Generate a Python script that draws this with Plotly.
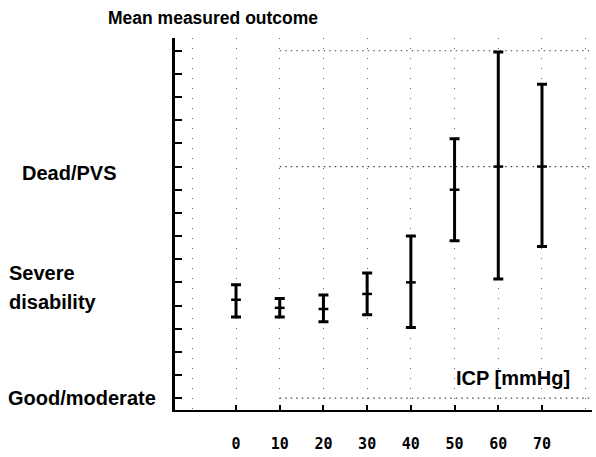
import plotly.graph_objects as go

# ---- data ----
icp = [0, 10, 20, 30, 40, 50, 60, 70]
mean_outcome = [1.85, 1.78, 1.77, 1.90, 2.00, 2.80, 3.00, 3.00]
upper = [1.98, 1.86, 1.89, 2.08, 2.40, 3.24, 3.99, 3.71]
lower = [1.70, 1.70, 1.66, 1.72, 1.61, 2.36, 2.03, 2.31]

x_ticks = [0, 10, 20, 30, 40, 50, 60, 70]
x_grid_extra = [-10, 80]
outcome_levels = [1, 2, 3]
outcome_labels = ["Good/moderate", "Severe\ndisability", "Dead/PVS"]
ref_levels = [1, 3, 4]

W, H = 596, 457
L, R, T, B = 175, 4, 38, 42
PW, PH = W - L - R, H - T - B
XR = [-13.96, 81.44]
YR = [0.898, 4.11]


def px_x(p):
    return (p - L) / PW


def px_y(p):
    return (H - B - p) / PH


def val_to_px_y(v):
    return H - B - (v - YR[0]) / (YR[1] - YR[0]) * PH


err_plus = [u - m for u, m in zip(upper, mean_outcome)]
err_minus = [m - lo for m, lo in zip(mean_outcome, lower)]

fig = go.Figure()
fig.add_trace(go.Scatter(
    x=icp, y=mean_outcome, mode="markers",
    marker=dict(symbol="line-ew", size=7, color="black",
                line=dict(color="black", width=2.5)),
    error_y=dict(type="data", symmetric=False, array=err_plus,
                 arrayminus=err_minus, color="black", thickness=3, width=5),
    showlegend=False, cliponaxis=False,
))

shapes = []
for lv in ref_levels:
    shapes.append(dict(type="line", xref="x", yref="y", x0=10, x1=XR[1],
                       y0=lv, y1=lv, layer="below",
                       line=dict(color="#444", width=1.2, dash="1.5px,4px")))

annotations = [
    dict(text="Mean measured outcome", xref="paper", yref="paper",
         x=px_x(106), y=px_y(18), xanchor="left", yanchor="middle",
         showarrow=False,
         font=dict(family="Liberation Sans, Arial", size=17.5, weight="bold",
                   color="black")),
    dict(text="ICP [mmHg]", xref="paper", yref="paper",
         x=px_x(454), y=px_y(383), xanchor="left", yanchor="middle",
         showarrow=False,
         font=dict(family="Liberation Sans, Arial", size=20, weight="bold",
                   color="black")),
]

label_x = {"Good/moderate": 6, "Severe\ndisability": 7, "Dead/PVS": 20}
label_dy = {"Good/moderate": 0, "Severe\ndisability": 5, "Dead/PVS": 7}
for lv, lab in zip(outcome_levels, outcome_labels):
    lines = lab.split("\n")
    cy = val_to_px_y(lv) + label_dy[lab]
    n = len(lines)
    for i, ln in enumerate(lines):
        yy = cy + (i - (n - 1) / 2) * 29
        annotations.append(dict(
            text=ln, xref="paper", yref="paper", x=px_x(label_x[lab]),
            y=px_y(yy), xanchor="left", yanchor="middle", showarrow=False,
            font=dict(family="Liberation Sans, Arial", size=20, weight="bold",
                      color="black")))

fig.update_layout(
    width=W, height=H,
    margin=dict(l=L, r=R, t=T, b=B, pad=0),
    paper_bgcolor="white", plot_bgcolor="white",
    shapes=shapes, annotations=annotations,
    xaxis=dict(
        range=XR, tickmode="array", tickvals=x_ticks,
        ticktext=[str(v) for v in x_ticks],
        ticks="inside", ticklen=5, tickwidth=2, tickcolor="black",
        showline=True, linecolor="black", linewidth=2,
        showgrid=True, gridcolor="#666", gridwidth=1, griddash="1px,9px",
        minor=dict(tickmode="array", tickvals=x_grid_extra, ticks="",
                   showgrid=True, gridcolor="#666", gridwidth=1,
                   griddash="1px,9px"),
        zeroline=False, ticklabelstandoff=19,
        tickfont=dict(family="DejaVu Sans Mono", size=15, weight="bold",
                      color="black"),
    ),
    yaxis=dict(
        range=YR, tick0=1, dtick=0.2, tickmode="linear",
        ticks="inside", ticklen=7, tickwidth=2, tickcolor="black",
        showticklabels=False,
        showline=True, linecolor="black", linewidth=2.5,
        showgrid=False, zeroline=False,
    ),
)

fig.write_html("out.html")
